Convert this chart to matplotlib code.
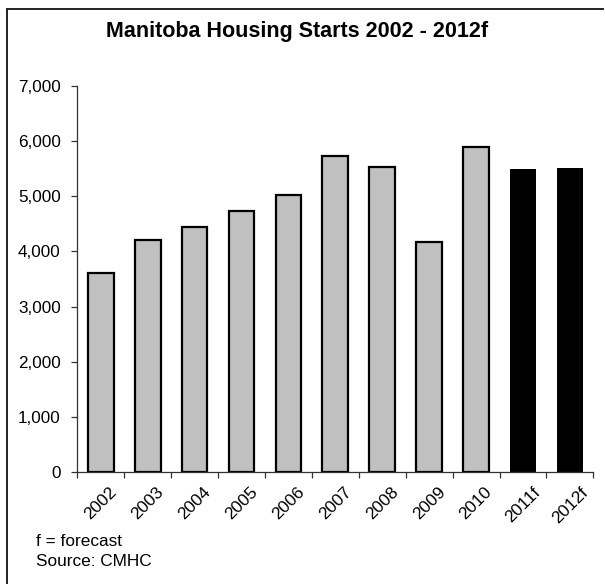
import matplotlib
matplotlib.use("Agg")
import matplotlib.pyplot as plt
from matplotlib.lines import Line2D
from matplotlib.ticker import FuncFormatter, FixedLocator

plt.rcParams['font.family'] = ['Liberation Sans', 'DejaVu Sans']

categories = ["2002", "2003", "2004", "2005", "2006", "2007", "2008", "2009", "2010", "2011f", "2012f"]
starts = [3617, 4206, 4440, 4731, 5028, 5738, 5537, 4174, 5888, 5495, 5520]
is_forecast = [False, False, False, False, False, False, False, False, False, True, True]
y_ticks = [0, 1000, 2000, 3000, 4000, 5000, 6000, 7000]

fig = plt.figure(figsize=(6.05, 5.84), dpi=100)
ax = fig.add_axes([0.1278, 0.1918, 0.9807 - 0.1278, 0.8527 - 0.1918])

x = list(range(len(categories)))
colors = ['black' if f else '#C0C0C0' for f in is_forecast]
lws = [0 if f else 1.6 for f in is_forecast]
for xi, v, c, lw in zip(x, starts, colors, lws):
    ax.bar(xi, v, width=0.55, color=c, edgecolor='black', linewidth=lw, zorder=2)

ax.set_xlim(-0.5, len(categories) - 0.5)
ax.set_ylim(0, 7000)
ax.set_yticks(y_ticks)
ax.yaxis.set_major_formatter(FuncFormatter(lambda v, p: f"{int(v):,}"))
ax.set_xticks(x)
ax.set_xticklabels(categories, rotation=45, ha='center', va='top', fontsize=12.5)
ax.xaxis.set_minor_locator(FixedLocator([i - 0.5 for i in range(len(categories) + 1)]))
ax.tick_params(axis='x', which='major', length=0, pad=9)
ax.tick_params(axis='x', which='minor', length=4, width=0.9, color='#333333', direction='out')
ax.tick_params(axis='y', which='major', length=4, width=0.9, color='#333333', labelsize=12.3, pad=8)

for s in ['top', 'right']:
    ax.spines[s].set_visible(False)
for s in ['left', 'bottom']:
    ax.spines[s].set_color('#333333')
    ax.spines[s].set_linewidth(0.9)

fig.text(0.4917, 1 - 36.7 / 584, "Manitoba Housing Starts 2002 - 2012f", ha='center', va='baseline',
         fontsize=15.5, fontweight='bold')
fig.text(36 / 605, 1 - 541.7 / 584, "f = forecast", ha='left', va='center', fontsize=12.4)
fig.text(36 / 605, 1 - 561 / 584, "Source: CMHC", ha='left', va='center', fontsize=12.4)

top_y = 1 - 9 / 584
left_x = 7 / 605
fig.add_artist(Line2D([left_x, 603 / 605], [top_y, top_y], transform=fig.transFigure, color='#222222', lw=1.4))
fig.add_artist(Line2D([left_x, left_x], [0, top_y], transform=fig.transFigure, color='#222222', lw=1.4))

fig.savefig("out.png", dpi=100)
